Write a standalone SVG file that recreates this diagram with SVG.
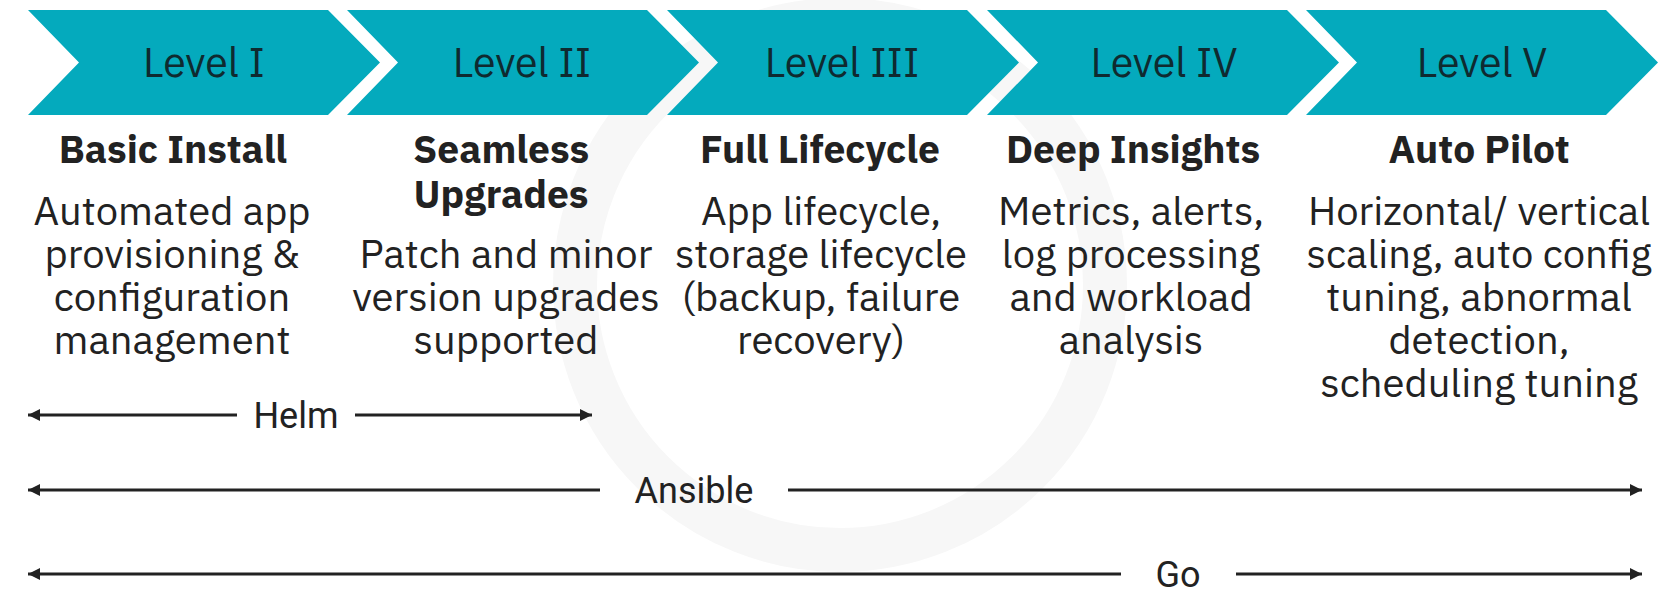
<svg xmlns="http://www.w3.org/2000/svg" width="1666" height="595" viewBox="0 0 1666 595">
<defs>
<style>
.chev{fill:#04AABD;}
.lvl{font-family:"IBM Plex Sans","Noto Sans","Open Sans",sans-serif;font-size:41px;fill:#0f2a30;text-anchor:middle;}
.ttl{font-family:"IBM Plex Sans","Noto Sans","Open Sans",sans-serif;font-size:39px;font-weight:bold;fill:#222;text-anchor:middle;}
.dsc{font-family:"IBM Plex Sans","Noto Sans","Open Sans",sans-serif;font-size:40px;fill:#222;text-anchor:middle;}
.tool{font-family:"Liberation Sans Narrow","Roboto",sans-serif;font-size:36px;fill:#222;text-anchor:middle;}
.ln{stroke:#222;stroke-width:3;fill:none;}
</style>
<marker id="ah" viewBox="0 0 10 10" refX="10" refY="5" markerWidth="4" markerHeight="4" orient="auto-start-reverse" markerUnits="strokeWidth">
<path d="M0,0 L10,5 L0,10 z" fill="#222"/>
</marker>
</defs>
<rect width="1666" height="595" fill="#fff"/>
<g id="watermark" fill="none" stroke="#f7f7f7">
<circle cx="840" cy="285" r="265" stroke-width="44"/>
</g>
<g id="level1">
<polygon class="chev" points="28,10 328,10 380,62.5 328,115 28,115 79,62.5"/>
<text class="lvl" x="204" y="77">Level I</text>
<text class="ttl" x="173" y="163">Basic Install</text>
<text class="dsc" x="172" y="225">Automated app</text>
<text class="dsc" x="172" y="268">provisioning &amp;</text>
<text class="dsc" x="172" y="311">configuration</text>
<text class="dsc" x="172" y="354">management</text>
</g>
<g id="level2">
<polygon class="chev" points="347,10 647,10 699,62.5 647,115 347,115 398,62.5"/>
<text class="lvl" x="522" y="77">Level II</text>
<text class="ttl" x="501" y="163">Seamless</text>
<text class="ttl" x="501" y="208">Upgrades</text>
<text class="dsc" x="506" y="268">Patch and minor</text>
<text class="dsc" x="506" y="311">version upgrades</text>
<text class="dsc" x="506" y="354">supported</text>
</g>
<g id="level3">
<polygon class="chev" points="667,10 967,10 1019,62.5 967,115 667,115 718,62.5"/>
<text class="lvl" x="842" y="77">Level III</text>
<text class="ttl" x="820" y="163">Full Lifecycle</text>
<text class="dsc" x="821" y="225">App lifecycle,</text>
<text class="dsc" x="821" y="268">storage lifecycle</text>
<text class="dsc" x="821" y="311">(backup, failure</text>
<text class="dsc" x="821" y="354">recovery)</text>
</g>
<g id="level4">
<polygon class="chev" points="987,10 1287,10 1339,62.5 1287,115 987,115 1038,62.5"/>
<text class="lvl" x="1164" y="77">Level IV</text>
<text class="ttl" x="1133" y="163">Deep Insights</text>
<text class="dsc" x="1131" y="225">Metrics, alerts,</text>
<text class="dsc" x="1131" y="268">log processing</text>
<text class="dsc" x="1131" y="311">and workload</text>
<text class="dsc" x="1131" y="354">analysis</text>
</g>
<g id="level5">
<polygon class="chev" points="1306,10 1606,10 1658,62.5 1606,115 1306,115 1357,62.5"/>
<text class="lvl" x="1482" y="77">Level V</text>
<text class="ttl" x="1479" y="163">Auto Pilot</text>
<text class="dsc" x="1479" y="225">Horizontal/ vertical</text>
<text class="dsc" x="1479" y="268">scaling, auto config</text>
<text class="dsc" x="1479" y="311">tuning, abnormal</text>
<text class="dsc" x="1479" y="354">detection,</text>
<text class="dsc" x="1479" y="397">scheduling tuning</text>
</g>
<g id="connectors">
<line class="ln" x1="237" y1="415" x2="28" y2="415" marker-end="url(#ah)"/>
<line class="ln" x1="355" y1="415" x2="592" y2="415" marker-end="url(#ah)"/>
<text class="tool" x="296" y="428">Helm</text>
<line class="ln" x1="600" y1="490" x2="28" y2="490" marker-end="url(#ah)"/>
<line class="ln" x1="788" y1="490" x2="1642" y2="490" marker-end="url(#ah)"/>
<text class="tool" x="694" y="503">Ansible</text>
<line class="ln" x1="1121" y1="574" x2="28" y2="574" marker-end="url(#ah)"/>
<line class="ln" x1="1236" y1="574" x2="1642" y2="574" marker-end="url(#ah)"/>
<text class="tool" x="1178" y="587">Go</text>
</g>
</svg>
